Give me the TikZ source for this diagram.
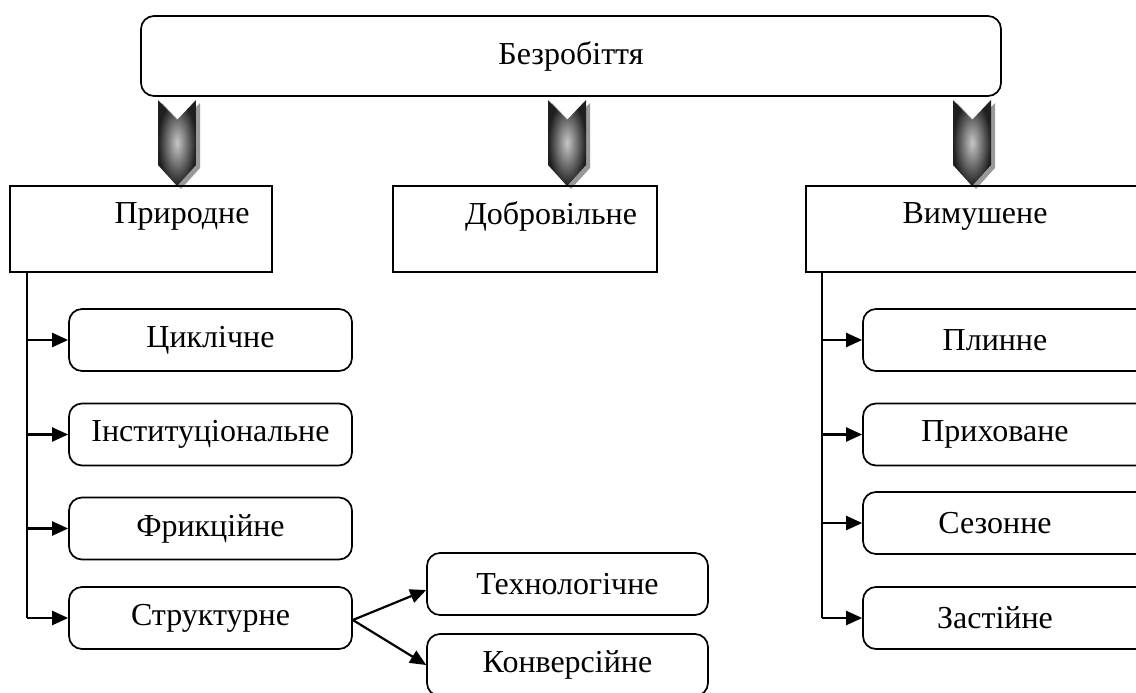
\documentclass[tikz,border=0pt]{standalone}
\usepackage{fontspec}
\setmainfont{Liberation Serif}
\usetikzlibrary{arrows.meta}
\begin{document}
\begin{tikzpicture}[x=1pt,y=-1pt,
  tx/.style={font=\fontsize{32}{38}\selectfont},
  box/.style={draw, line width=1.7pt, tx, inner sep=0pt, minimum height=62pt},
  sbox/.style={box, minimum height=86pt},
  rbox/.style={box, rounded corners=13pt},
  conn/.style={line width=2.2pt},
  arr/.style={conn, -{Triangle[length=16pt,width=14pt]}},
  chev/.pic={
    \fill[black!40] (-19+4,0+3) -- (0+4,20+3) -- (19+4,0+3) -- (19+4,65+3) -- (0+4,86+3) -- (-19+4,65+3) -- cycle;
    \shade[inner color=black!22, outer color=black!88] (-19,0) -- (0,20) -- (19,0) -- (19,65) -- (0,86) -- (-19,65) -- cycle;
  }
]
\useasboundingbox (0,0) rectangle (1136,693);
\clip (0,0) rectangle (1136,693);

% top
\node[rbox, minimum width=860pt, minimum height=80pt] (top) at (571,56) {Безробіття};

% chevrons
\pic at (177,100) {chev};
\pic at (567,100) {chev};
\pic at (972,100) {chev};

% main categories
\node[sbox, minimum width=262pt, label={[tx, xshift=41pt, yshift=13pt]center:Природне}] (pr) at (141,229) {};
\node[sbox, minimum width=264pt, label={[tx, xshift=26pt, yshift=13pt]center:Добровільне}] (dob) at (525,229) {};
\node[sbox, minimum width=338pt, label={[tx, yshift=13pt]center:Вимушене}] (vym) at (975,229) {};

% left column
\node[rbox, minimum width=283pt] (cyc) at (210.5,340) {Циклічне};
\node[rbox, minimum width=283pt] (inst) at (210.5,434.5) {Інституціональне};
\node[rbox, minimum width=283pt] (fric) at (210.5,528.5) {Фрикційне};
\node[rbox, minimum width=283pt] (str) at (210.5,618) {Структурне};

% structural subtypes
\node[rbox, minimum width=281pt] (tech) at (567.5,584) {Технологічне};
\node[rbox, minimum width=281pt] (konv) at (567.5,665) {Конверсійне};

% right column
\node[rbox, minimum width=290pt, label={[tx, xshift=-13pt]center:Плинне}] (pl) at (1008,340) {};
\node[rbox, minimum width=290pt, label={[tx, xshift=-13pt]center:Приховане}] (prh) at (1008,434.5) {};
\node[rbox, minimum width=290pt, label={[tx, xshift=-13pt]center:Сезонне}] (sez) at (1008,523) {};
\node[rbox, minimum width=290pt, label={[tx, xshift=-13pt]center:Застійне}] (zas) at (1008,618) {};

% left tree
\coordinate (L) at (27,0);
\draw[conn] (pr.south -| L) -- (L |- str.west);
\draw[arr] (L |- cyc.west) -- (cyc.west);
\draw[arr] (L |- inst.west) -- (inst.west);
\draw[arr] (L |- fric.west) -- (fric.west);
\draw[arr] (L |- str.west) -- (str.west);

% right tree
\coordinate (R) at (822,0);
\draw[conn] (vym.south -| R) -- (R |- zas.west);
\draw[arr] (R |- pl.west) -- (pl.west);
\draw[arr] (R |- prh.west) -- (prh.west);
\draw[arr] (R |- sez.west) -- (sez.west);
\draw[arr] (R |- zas.west) -- (zas.west);

% structural branches
\draw[arr] ([yshift=-2pt]str.east) -- ([yshift=-6pt]tech.west);
\draw[arr] ([yshift=-2pt]str.east) -- (konv.west);
\end{tikzpicture}
\end{document}
